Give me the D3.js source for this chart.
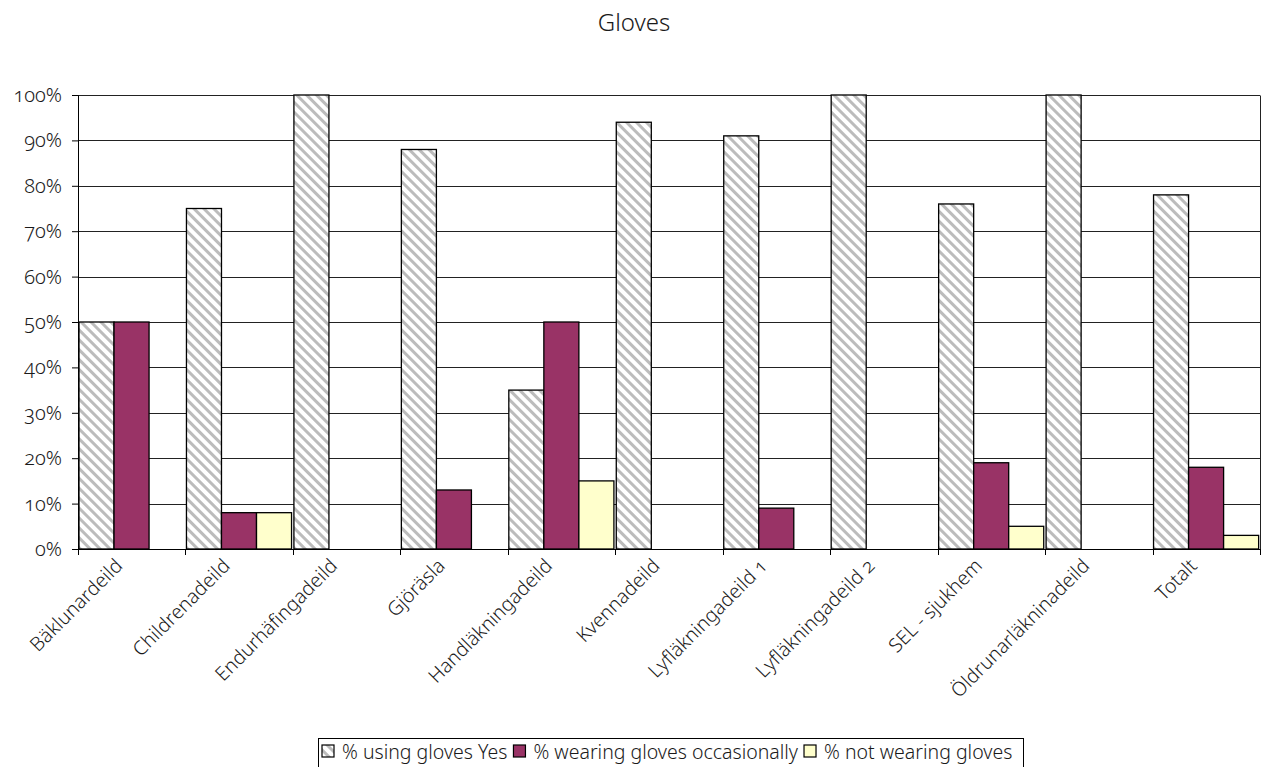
<!DOCTYPE html>
<html>
<head>
<meta charset="utf-8">
<script src="https://cdn.jsdelivr.net/npm/d3@7"></script>
<style>
  html, body { margin: 0; padding: 0; background: #fff; }
  svg text { font-family: "Noto Sans", "Open Sans", sans-serif; font-weight: 300; fill: #1a1a1a; }
  .onum { font-variant-numeric: oldstyle-nums; font-feature-settings: "onum" 1; }
</style>
</head>
<body>
<svg id="chart" width="1263" height="767"></svg>
<script>
// Ward names along the x axis
const categories = [
  "Bäklunardeild", "Childrenadeild", "Endurhäfingadeild", "Gjöräsla",
  "Handläkningadeild", "Kvennadeild", "Lyfläkningadeild 1", "Lyfläkningadeild 2",
  "SEL - sjukhem", "Öldrunarläkninadeild", "Totalt"
];
// Percentages per ward
const usingYes     = [50, 75, 100, 88, 35, 94, 91, 100, 76, 100, 78];
const occasionally = [50, 8, 0, 13, 50, 0, 9, 0, 19, 0, 18];
const notWearing   = [0, 8, 0, 0, 15, 0, 0, 0, 5, 0, 3];
const seriesNames  = ["% using gloves Yes", "% wearing gloves occasionally", "% not wearing gloves"];
const yTicks       = [0, 10, 20, 30, 40, 50, 60, 70, 80, 90, 100];

const svg = d3.select("#chart");
const plotL = 78, plotR = 1260, plotT = 95, plotB = 549;

// Diagonal grey hatch for the first series
const defs = svg.append("defs");
const pat = defs.append("pattern")
  .attr("id", "hatch").attr("patternUnits", "userSpaceOnUse")
  .attr("width", 7).attr("height", 7)
  .attr("patternTransform", "rotate(45)");
pat.append("rect").attr("width", 7).attr("height", 7).attr("fill", "#fff");
pat.append("rect").attr("x", 0).attr("y", 0).attr("width", 7).attr("height", 3).attr("fill", "#bcbcbc");

const fills = ["url(#hatch)", "#993366", "#ffffcc"];
const series = [usingYes, occasionally, notWearing];

const x = d3.scaleBand().domain(categories).range([plotL, plotR]).padding(0);
const x1 = d3.scaleBand().domain([0, 1, 2]).range([0, x.bandwidth() * 0.978]).padding(0);
const y = d3.scaleLinear().domain([0, 100]).range([plotB, plotT]);

// Title
svg.append("text").attr("x", 634).attr("y", 31).attr("text-anchor", "middle")
  .style("font-size", "24px").text("Gloves");

// Horizontal gridlines
svg.append("g").selectAll("line").data(yTicks.filter(d => d > 0)).join("line")
  .attr("x1", plotL).attr("x2", plotR)
  .attr("y1", d => Math.round(y(d)) + 0.5).attr("y2", d => Math.round(y(d)) + 0.5)
  .attr("stroke", "#222").attr("stroke-width", 1);

// Right border of the plot area
svg.append("line").attr("x1", plotR + 0.5).attr("x2", plotR + 0.5)
  .attr("y1", Math.round(plotT) + 0.5).attr("y2", plotB)
  .attr("stroke", "#222");

// Bars
const groups = svg.append("g").selectAll("g").data(categories).join("g")
  .attr("transform", d => `translate(${x(d)},0)`);
groups.each(function(cat, i) {
  const g = d3.select(this);
  series.forEach((vals, s) => {
    const v = vals[i];
    if (v <= 0) return;
    g.append("rect")
      .attr("x", x1(s) + 1).attr("width", x1.bandwidth())
      .attr("y", y(v)).attr("height", y(0) - y(v))
      .attr("fill", fills[s]).attr("stroke", "#000").attr("stroke-width", 1.3);
  });
});

// Y axis
const yAxis = d3.axisLeft(y).tickValues(yTicks).tickFormat(d => d + "%").tickSizeOuter(0).tickSize(6).tickPadding(10);
const gy = svg.append("g").attr("transform", `translate(${plotL},0)`).call(yAxis);
gy.attr("font-family", null).attr("font-size", null);
gy.select(".domain").attr("stroke", "#000");
gy.selectAll(".tick line").attr("stroke", "#000");
gy.selectAll("text").attr("class", "onum").style("font-size", "20px").attr("fill", "#1a1a1a");

// X axis: ticks at the category boundaries
const xb = d3.scaleLinear().domain([0, categories.length]).range([plotL, plotR]);
const gx = svg.append("g");
gx.append("line").attr("x1", plotL).attr("x2", plotR).attr("y1", plotB + 0.5).attr("y2", plotB + 0.5).attr("stroke", "#000");
gx.selectAll("line.t").data(d3.range(categories.length + 1)).join("line").attr("class", "t")
  .attr("x1", d => Math.round(xb(d)) + 0.5).attr("x2", d => Math.round(xb(d)) + 0.5)
  .attr("y1", plotB).attr("y2", plotB + 6).attr("stroke", "#000");
gx.selectAll("text").data(categories).join("text")
  .attr("class", "onum")
  .attr("text-anchor", "end")
  .attr("transform", d => `translate(${x(d) + x.bandwidth() / 2 - 8},${plotB + 18}) rotate(-45)`)
  .style("font-size", "19.5px")
  .text(d => d);

// Legend: items laid out one after another from measured text widths
const lg = svg.append("g");
lg.append("rect").attr("x", 318.5).attr("y", 738.5).attr("width", 705).attr("height", 34)
  .attr("fill", "#fff").attr("stroke", "#000");
let lx = 322;
seriesNames.forEach((name, s) => {
  lg.append("rect").attr("x", lx).attr("y", 745).attr("width", 12).attr("height", 12)
    .attr("fill", fills[s]).attr("stroke", "#000").attr("stroke-width", 1.2);
  const t = lg.append("text").attr("x", lx + 20).attr("y", 759).style("font-size", "19.5px").text(name);
  lx += 20 + t.node().getComputedTextLength() + 6;
});
</script>
</body>
</html>
